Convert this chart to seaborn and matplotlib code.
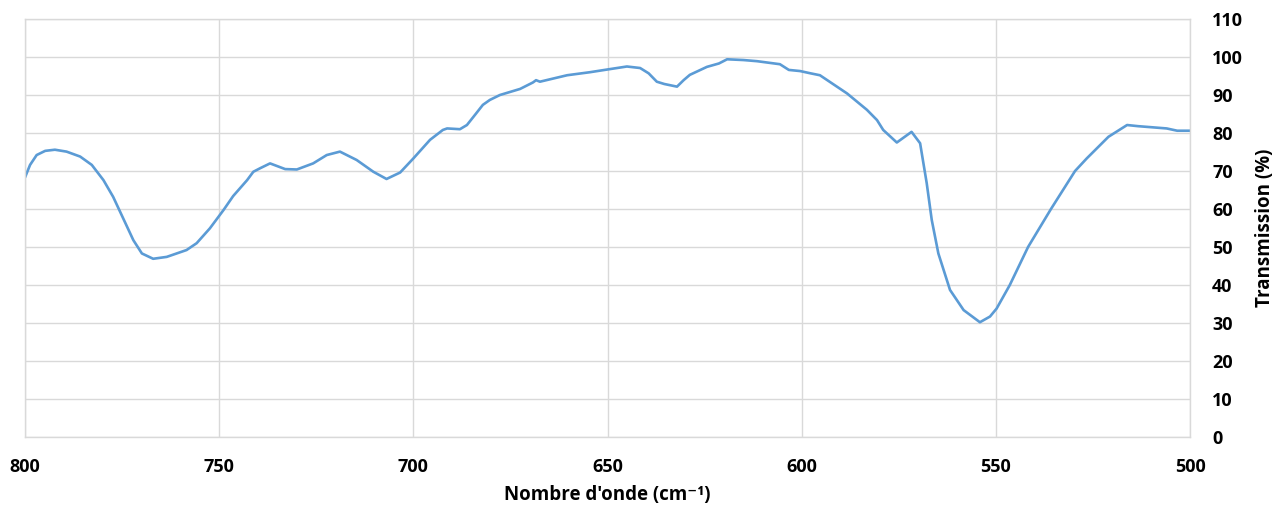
import matplotlib
matplotlib.use("Agg")
import matplotlib.pyplot as plt
import seaborn as sns
import pandas as pd

wavenumber = [800.0, 798.7, 797.0, 794.8, 792.3, 789.3, 785.8, 782.8, 779.8, 777.3,
              774.7, 772.1, 769.9, 767.0, 763.5, 758.4, 755.8, 752.4, 748.9, 746.4,
              742.8, 741.2, 739.5, 736.9, 733.0, 730.0, 725.8, 722.3, 718.9, 714.6,
              710.3, 706.9, 703.4, 700.0, 695.7, 692.4, 691.3, 688.0, 686.2, 684.1,
              682.1, 680.3, 677.7, 672.5, 669.2, 668.4, 667.4, 660.4, 654.5, 650.1,
              645.0, 641.6, 639.4, 637.3, 635.4, 632.1, 630.4, 628.8, 624.4, 621.3,
              619.2, 615.0, 611.5, 605.6, 603.3, 600.4, 597.7, 595.3, 588.3, 583.2,
              580.6, 579.0, 575.5, 571.7, 569.5, 567.8, 566.5, 564.8, 561.8, 558.3,
              554.1, 551.5, 549.8, 546.4, 541.7, 535.8, 529.6, 526.6, 521.0, 516.2,
              513.4, 506.0, 503.3, 500.0]
transmission = [68.3, 71.6, 74.2, 75.3, 75.6, 75.1, 73.8, 71.6, 67.6, 63.2,
                57.5, 51.8, 48.3, 46.9, 47.4, 49.2, 51.0, 54.9, 59.7, 63.4,
                67.6, 69.8, 70.7, 72.0, 70.5, 70.4, 72.0, 74.2, 75.1, 72.9,
                69.8, 67.9, 69.6, 73.3, 78.2, 80.8, 81.2, 81.0, 82.1, 84.8,
                87.4, 88.7, 90.0, 91.6, 93.3, 93.9, 93.5, 95.2, 96.0, 96.7,
                97.5, 97.1, 95.7, 93.5, 92.9, 92.2, 93.9, 95.3, 97.4, 98.3,
                99.4, 99.2, 98.9, 98.1, 96.6, 96.3, 95.7, 95.2, 90.4, 86.1,
                83.4, 80.8, 77.5, 80.3, 77.3, 66.8, 57.1, 48.3, 38.7, 33.4,
                30.2, 31.7, 33.8, 40.0, 50.0, 60.0, 70.0, 73.3, 79.0, 82.1,
                81.8, 81.2, 80.6, 80.6]

x_ticks = [800, 750, 700, 650, 600, 550, 500]
y_ticks = list(range(0, 111, 10))
x_label = "Nombre d'onde (cm\u207b\u00b9)"
y_label = "Transmission (%)"

df = pd.DataFrame({"w": wavenumber, "t": transmission})

sns.set_style("white")
plt.rcParams["font.family"] = ["Open Sans", "DejaVu Sans"]

fig = plt.figure(figsize=(12.79, 5.09), dpi=100)
ax = fig.add_axes([25 / 1279, 72 / 509, 1165 / 1279, 418 / 509])

sns.lineplot(data=df, x="w", y="t", ax=ax, color="#5B9BD5", linewidth=1.9,
             sort=False)
for ln in ax.get_lines():
    ln.set_solid_joinstyle("round")
    ln.set_solid_capstyle("round")

ax.set_xlim(800, 500)
ax.set_ylim(0, 110)
ax.set_xticks(x_ticks)
ax.set_yticks(y_ticks)
ax.grid(True, color="#D9D9D9", linewidth=1.0)
ax.set_axisbelow(True)
for s in ax.spines.values():
    s.set_color("#D9D9D9")
    s.set_linewidth(1.0)

ax.yaxis.tick_right()
ax.yaxis.set_label_position("right")
ax.tick_params(axis="both", length=0, labelsize=13, colors="#000000",
               labelcolor="#000000")
ax.tick_params(axis="x", pad=15)
ax.tick_params(axis="y", pad=16)
for lab in ax.get_xticklabels() + ax.get_yticklabels():
    lab.set_fontweight("bold")

ax.set_xlabel(x_label, fontsize=13.5, fontweight="bold", color="#000000")
ax.set_ylabel(y_label, fontsize=13.5, fontweight="bold", color="#000000")
ax.xaxis.set_label_coords(0.5, -0.115)
ax.yaxis.set_label_coords(1.056, 0.5)

fig.savefig("out.png", dpi=100)
